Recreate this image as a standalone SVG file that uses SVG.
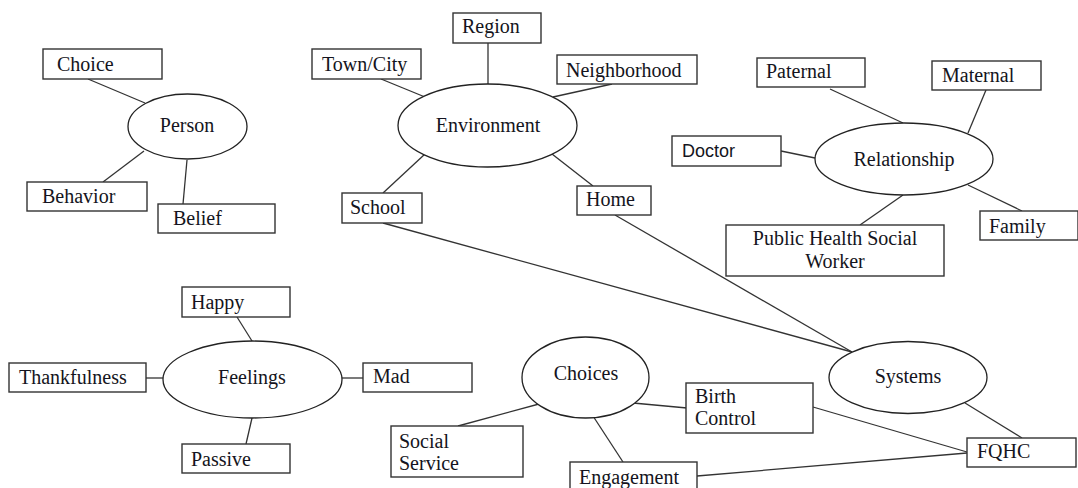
<svg xmlns="http://www.w3.org/2000/svg" width="1078" height="488" viewBox="0 0 1078 488">
<style>
.b{fill:#fff;stroke:#333;stroke-width:1.4}
.e{fill:#fff;stroke:#222;stroke-width:1.3}
.t{font-family:"Liberation Serif","Times New Roman",serif;font-size:20px;fill:#141420}
.s{font-family:"Liberation Sans",Arial,sans-serif;font-size:18px;fill:#141420}
.c{text-anchor:middle}
#connectors line{stroke:#333;stroke-width:1.3}
</style>
<rect width="1078" height="488" fill="#fff"/>
<g id="connectors">
<line x1="88" y1="79" x2="145" y2="103"/>
<line x1="103" y1="182" x2="144" y2="151"/>
<line x1="183" y1="204" x2="187" y2="160"/>
<line x1="488" y1="43" x2="488" y2="84"/>
<line x1="381" y1="79" x2="425" y2="97"/>
<line x1="612" y1="84" x2="553" y2="97"/>
<line x1="383" y1="193" x2="425" y2="154"/>
<line x1="593" y1="186" x2="552" y2="154"/>
<line x1="383" y1="223" x2="852" y2="352"/>
<line x1="615" y1="215" x2="852" y2="352"/>
<line x1="830" y1="89" x2="903" y2="123"/>
<line x1="986" y1="90" x2="968" y2="133"/>
<line x1="781" y1="151" x2="815" y2="158"/>
<line x1="860" y1="225" x2="903" y2="195"/>
<line x1="968" y1="185" x2="1022" y2="211"/>
<line x1="237" y1="317" x2="252" y2="341"/>
<line x1="146" y1="378" x2="163" y2="378"/>
<line x1="342" y1="378" x2="363" y2="378"/>
<line x1="252" y1="418" x2="246" y2="444"/>
<line x1="458" y1="426" x2="539" y2="404"/>
<line x1="623" y1="462" x2="593" y2="416"/>
<line x1="633" y1="403" x2="687" y2="408"/>
<line x1="813" y1="407" x2="967" y2="452"/>
<line x1="697" y1="476" x2="967" y2="453"/>
<line x1="965" y1="403" x2="1022" y2="438"/>
</g>
<g id="person">
<ellipse class="e" cx="187.5" cy="126.5" rx="59.5" ry="32.5"/>
<text class="t c" x="187" y="132">Person</text>
</g>
<g id="choice"><rect class="b" x="43" y="49" width="119" height="30"/><text class="t" x="57" y="71">Choice</text></g>
<g id="behavior"><rect class="b" x="27" y="182" width="120" height="29"/><text class="t" x="42" y="203">Behavior</text></g>
<g id="belief"><rect class="b" x="158" y="204" width="117" height="29"/><text class="t" x="173" y="225">Belief</text></g>
<g id="environment">
<ellipse class="e" cx="487.5" cy="125.5" rx="89.5" ry="41.5"/>
<text class="t c" x="488" y="132">Environment</text>
</g>
<g id="region"><rect class="b" x="453" y="13" width="88" height="30"/><text class="t" x="462" y="33">Region</text></g>
<g id="towncity"><rect class="b" x="312" y="49" width="109" height="30"/><text class="t" x="322" y="71">Town/City</text></g>
<g id="neighborhood"><rect class="b" x="557" y="55" width="140" height="29"/><text class="t" x="566" y="77">Neighborhood</text></g>
<g id="school"><rect class="b" x="342" y="193" width="80" height="30"/><text class="t" x="350" y="214">School</text></g>
<g id="home"><rect class="b" x="577" y="186" width="74" height="29"/><text class="t" x="586" y="206">Home</text></g>
<g id="relationship">
<ellipse class="e" cx="904" cy="159" rx="89" ry="36"/>
<text class="t c" x="904" y="166">Relationship</text>
</g>
<g id="paternal"><rect class="b" x="757" y="58" width="108" height="29"/><text class="t" x="766" y="78">Paternal</text></g>
<g id="maternal"><rect class="b" x="932" y="61" width="109" height="29"/><text class="t" x="942" y="82">Maternal</text></g>
<g id="doctor"><rect class="b" x="672" y="136" width="109" height="30"/><text class="s" x="682" y="157">Doctor</text></g>
<g id="family"><rect class="b" x="980" y="211" width="98" height="29"/><text class="t" x="989" y="233">Family</text></g>
<g id="phsw"><rect class="b" x="726" y="225" width="218" height="51"/><text class="t c" x="835" y="245">Public Health Social</text><text class="t c" x="835" y="268">Worker</text></g>
<g id="feelings">
<ellipse class="e" cx="252.5" cy="379.5" rx="89.5" ry="38.5"/>
<text class="t c" x="252" y="384">Feelings</text>
</g>
<g id="happy"><rect class="b" x="182" y="287" width="108" height="30"/><text class="t" x="191" y="309">Happy</text></g>
<g id="thankfulness"><rect class="b" x="9" y="363" width="137" height="29"/><text class="t" x="19" y="384">Thankfulness</text></g>
<g id="mad"><rect class="b" x="363" y="363" width="109" height="29"/><text class="t" x="373" y="383">Mad</text></g>
<g id="passive"><rect class="b" x="182" y="444" width="108" height="29"/><text class="t" x="191" y="466">Passive</text></g>
<g id="choices">
<ellipse class="e" cx="585.5" cy="377.5" rx="63.5" ry="40.5"/>
<text class="t c" x="586" y="380">Choices</text>
</g>
<g id="socialservice"><rect class="b" x="391" y="426" width="132" height="51"/><text class="t" x="399" y="448">Social</text><text class="t" x="399" y="470">Service</text></g>
<g id="engagement"><rect class="b" x="570" y="462" width="127" height="30"/><text class="t" x="579" y="484">Engagement</text></g>
<g id="birthcontrol"><rect class="b" x="686" y="383" width="127" height="50"/><text class="t" x="695" y="403">Birth</text><text class="t" x="695" y="425">Control</text></g>
<g id="systems">
<ellipse class="e" cx="908" cy="377.5" rx="79" ry="36"/>
<text class="t c" x="908" y="383">Systems</text>
</g>
<g id="fqhc"><rect class="b" x="967" y="438" width="109" height="29"/><text class="t" x="977" y="458">FQHC</text></g>
</svg>
